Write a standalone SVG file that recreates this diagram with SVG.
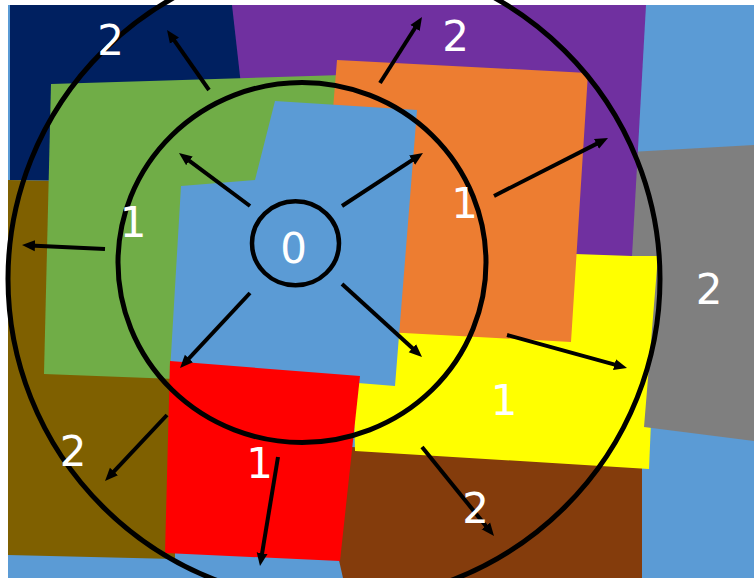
<svg xmlns="http://www.w3.org/2000/svg" width="754" height="578" viewBox="0 0 754 578">
<style>
.lbl{font-family:"DejaVu Sans","Liberation Sans",sans-serif;font-size:42px;fill:#FFFFFF;text-anchor:middle}
.ring{fill:none;stroke:#000000;stroke-width:5}
.arr{stroke:#000000;stroke-width:4;fill:none;marker-end:url(#ah)}
</style>
<defs>
<marker id="ah" markerUnits="userSpaceOnUse" viewBox="0 -6 14 12" markerWidth="14" markerHeight="12" refX="5" refY="0" orient="auto">
<path d="M0,-5.5 L13,0 L0,5.5 z" fill="#000000"/>
</marker>
</defs>
<rect x="0" y="0" width="754" height="578" fill="#FFFFFF"/>
<rect x="8" y="5" width="746" height="573" fill="#5B9BD5"/>
<g id="brown">
<polygon points="313,445 642,462 642,578 343,578" fill="#843C0C"/>
</g>
<g id="yellow">
<polygon points="350,245 658,256 649,469 355,451" fill="#FFFF00"/>
</g>
<g id="grey">
<polygon points="630,152 754,145 754,441 644,427 658,256 630,256" fill="#7F7F7F"/>
</g>
<g id="purple">
<polygon points="220,5 646,5 632,256 575,254 220,150" fill="#7030A0"/>
</g>
<g id="navy">
<polygon points="10,5 232,5 241,85 241,183 10,180" fill="#002060"/>
</g>
<g id="olive">
<polygon points="8,180 175,183 175,559 8,555" fill="#7F6000"/>
</g>
<g id="green">
<polygon points="51,84 342,75 345,370 175,379 44,374" fill="#70AD47"/>
</g>
<g id="orange">
<polygon points="337,60 588,73 571,342 404,333 315,330" fill="#ED7D31"/>
</g>
<g id="center">
<polygon points="275,101 417,110 395,386 358,383 170,372 181,186 255,180" fill="#5B9BD5"/>
</g>
<g id="red">
<polygon points="170,361 360,376 340,561 165,553" fill="#FF0000"/>
</g>
<g id="rings">
<ellipse class="ring" cx="334" cy="279" rx="326" ry="323"/>
<ellipse class="ring" cx="302" cy="262.5" rx="184" ry="180"/>
<ellipse class="ring" cx="295.5" cy="243.3" rx="43.5" ry="42" style="stroke-width:4.5"/>
</g>
<g id="connectors">
<line class="arr" x1="250" y1="206" x2="185.4" y2="157.8"/>
<line class="arr" x1="342" y1="206" x2="416.3" y2="157.4"/>
<line class="arr" x1="250" y1="293" x2="185.5" y2="362.2"/>
<line class="arr" x1="342" y1="284" x2="416.1" y2="351.6"/>
<line class="arr" x1="209" y1="90" x2="171.6" y2="36.6"/>
<line class="arr" x1="380" y1="83" x2="417.7" y2="23.8"/>
<line class="arr" x1="105" y1="249" x2="30" y2="245.4"/>
<line class="arr" x1="494" y1="196" x2="600.9" y2="141.6"/>
<line class="arr" x1="167" y1="415" x2="110.5" y2="475.2"/>
<line class="arr" x1="278" y1="457" x2="261.3" y2="558.1"/>
<line class="arr" x1="507" y1="335" x2="619.3" y2="365.9"/>
<line class="arr" x1="422" y1="447" x2="489" y2="529.8"/>
</g>
<g id="labels">
<text class="lbl" x="110.5" y="55">2</text>
<text class="lbl" x="455.5" y="51">2</text>
<text class="lbl" x="293.5" y="263">0</text>
<text class="lbl" x="133" y="237">1</text>
<text class="lbl" x="464.5" y="218">1</text>
<text class="lbl" x="709" y="304">2</text>
<text class="lbl" x="504" y="415">1</text>
<text class="lbl" x="73" y="466">2</text>
<text class="lbl" x="259.5" y="478">1</text>
<text class="lbl" x="475.5" y="523">2</text>
</g>
</svg>
